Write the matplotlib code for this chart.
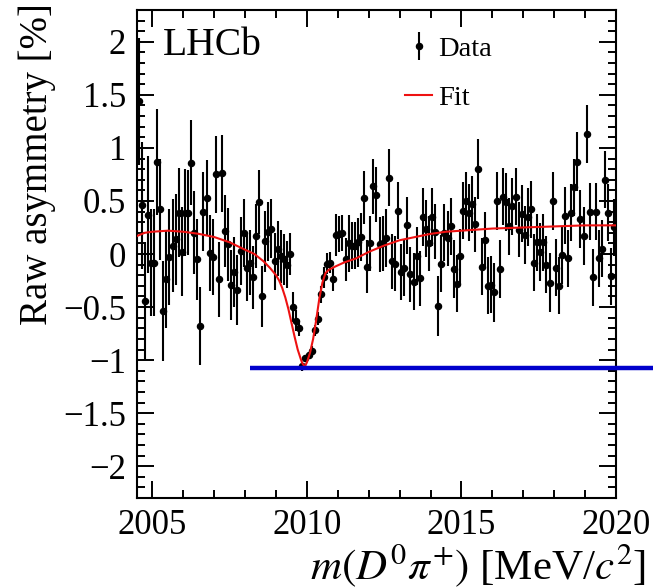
import matplotlib
matplotlib.use("Agg")
import matplotlib.pyplot as plt
from matplotlib.ticker import MultipleLocator, FixedLocator, FuncFormatter

plt.rcParams['font.family'] = ['Liberation Serif', 'DejaVu Serif']
plt.rcParams['mathtext.fontset'] = 'stix'

# ---- data ----
bin_start = 2004.55
bin_width = 0.1
asym = [1.44, 0.46, -0.44, 0.37, -0.08, -0.08, 0.87, 0.42, -0.54, -0.24,
        -0.03, 0.08, 0.14, 0.39, 0.02, 0.39, 0.39, 0.86, 0.20, -0.05,
        -0.68, 0.40, 0.53, 0.01, -0.03, 0.75, -0.24, 0.76, 0.22, 0.09,
        -0.29, -0.17, -0.34, 0.03, 0.20, -0.13, -0.08, -0.22, 0.17, 0.49,
        -0.40, 0.12, 0.21, 0.24, -0.07, 0.05, -0.02, -0.05, -0.10, 0.00,
        -0.50, -0.63, -0.70, -1.06, -0.98, -0.95, -0.91, -0.72, -0.61, -0.38,
        -0.22, -0.09, -0.08, -0.24, 0.18, 0.19, 0.20, -0.05, 0.10, 0.08,
        0.08, 0.11, 0.16, 0.53, -0.12, 0.10, 0.64, 0.56, 0.09, 0.10,
        0.15, 0.72, -0.07, -0.09, 0.41, -0.17, -0.13, 0.27, -0.19, -0.26,
        -0.02, -0.23, 0.35, 0.24, 0.10, 0.35, 0.21, -0.49, -0.09, 0.20,
        0.15, 0.26, -0.14, -0.28, -0.02, 0.41, 0.50, 0.39, 0.47, 0.28,
        0.80, -0.12, 0.13, -0.30, -0.29, -0.36, 0.50, -0.14, 0.54, 0.49,
        0.26, 0.45, 0.54, 0.23, 0.38, 0.18, 0.35, 0.42, -0.08, 0.11,
        0.02, 0.11, -0.10, -0.27, 0.50, -0.13, -0.30, -0.01, 0.36, -0.04,
        0.39, 0.63, 0.87, 0.33, 0.17, 1.13, 0.40, -0.22, 0.40, -0.04,
        0.05, 0.70, 0.39, -0.21, 0.25]
err = [0.60, 0.60, 0.55, 0.55, 0.50, 0.50, 0.50, 0.48, 0.47, 0.46,
       0.45, 0.44, 0.43, 0.42, 0.42, 0.41, 0.40, 0.40, 0.39, 0.38,
       0.37, 0.37, 0.36, 0.36, 0.36, 0.36, 0.35, 0.36, 0.34, 0.34,
       0.33, 0.33, 0.33, 0.32, 0.32, 0.31, 0.31, 0.30, 0.30, 0.30,
       0.29, 0.29, 0.28, 0.28, 0.27, 0.26, 0.25, 0.24, 0.22, 0.20,
       0.14, 0.10, 0.07, 0.04, 0.03, 0.03, 0.04, 0.05, 0.06, 0.08,
       0.10, 0.10, 0.10, 0.11, 0.20, 0.17, 0.17, 0.20, 0.27, 0.22,
       0.22, 0.23, 0.23, 0.25, 0.25, 0.26, 0.26, 0.26, 0.26, 0.26,
       0.27, 0.27, 0.26, 0.26, 0.27, 0.26, 0.27, 0.27, 0.26, 0.27,
       0.27, 0.26, 0.27, 0.27, 0.26, 0.27, 0.26, 0.28, 0.27, 0.27,
       0.26, 0.27, 0.27, 0.27, 0.26, 0.27, 0.27, 0.27, 0.27, 0.26,
       0.28, 0.27, 0.27, 0.27, 0.27, 0.28, 0.27, 0.27, 0.27, 0.27,
       0.27, 0.27, 0.27, 0.26, 0.27, 0.27, 0.27, 0.27, 0.27, 0.27,
       0.27, 0.27, 0.27, 0.28, 0.27, 0.27, 0.27, 0.27, 0.27, 0.27,
       0.27, 0.27, 0.28, 0.27, 0.27, 0.27, 0.27, 0.27, 0.27, 0.27,
       0.27, 0.27, 0.27, 0.27, 0.27]
mass = [bin_start + bin_width * i for i in range(len(asym))]

fit_x = [2004.5, 2004.75, 2005.0, 2005.5, 2006.0, 2006.5, 2007.0, 2007.5,
         2008.0, 2008.3, 2008.6, 2008.8, 2009.0, 2009.1, 2009.2, 2009.3,
         2009.4, 2009.5, 2009.6, 2009.7, 2009.8, 2009.85, 2009.9, 2009.95,
         2010.0, 2010.1, 2010.2, 2010.3, 2010.4, 2010.5, 2010.6, 2010.7,
         2010.9, 2011.2, 2011.6, 2012.0, 2012.5, 2013.0, 2013.5, 2014.0,
         2014.5, 2015.0, 2016.0, 2017.0, 2018.0, 2019.0, 2020.0]
fit_y = [0.17, 0.20, 0.21, 0.22, 0.21, 0.19, 0.16, 0.11,
         0.04, 0.00, -0.07, -0.13, -0.20, -0.25, -0.32, -0.41,
         -0.52, -0.65, -0.78, -0.90, -0.99, -1.03, -1.05, -1.05,
         -1.02, -0.93, -0.80, -0.62, -0.42, -0.27, -0.18, -0.15,
         -0.12, -0.08, -0.04, 0.02, 0.08, 0.13, 0.16, 0.19,
         0.21, 0.22, 0.24, 0.25, 0.26, 0.27, 0.27]

hline_y = -1.075
hline_x = [2008.15, 2021.6]

xlim = (2004.5, 2020.0)
ylim = (-2.3, 2.3)

# ---- figure ----
fig = plt.figure(figsize=(6.53, 5.88), dpi=100)
ax = fig.add_axes([0.2098, 0.153, 0.7335, 0.830])

eb = ax.errorbar(mass, asym, yerr=err, fmt='o', color='black', ms=4.4,
                 elinewidth=1.5, capsize=0, zorder=3)
fl, = ax.plot(fit_x, fit_y, color='#ee1111', lw=1.5, zorder=4)
ax.plot(hline_x, [hline_y, hline_y], color='#0000cc', lw=3.2,
        clip_on=False, zorder=5, solid_capstyle='butt')

ax.set_xlim(*xlim)
ax.set_ylim(*ylim)

ax.xaxis.set_major_locator(FixedLocator([2005, 2010, 2015, 2020]))
ax.xaxis.set_minor_locator(MultipleLocator(1))
ax.yaxis.set_major_locator(MultipleLocator(0.5))
ax.yaxis.set_minor_locator(MultipleLocator(0.1))

def yfmt(v, pos):
    s = ('%g' % round(v, 2))
    return s.replace('-', '\u2212')
ax.yaxis.set_major_formatter(FuncFormatter(yfmt))

ax.tick_params(which='both', direction='in', top=True, right=True,
               labelsize=25, width=1.4, colors='black')
ax.tick_params(which='major', length=12, pad=8)
ax.tick_params(which='minor', length=6)
for s in ax.spines.values():
    s.set_linewidth(1.5)

ax.set_ylabel('Raw asymmetry [%]', fontsize=28, loc='top')
ax.yaxis.set_label_coords(-0.17, 1.015)
ax.set_xlabel(r'$m(D^0\pi^{+})$ [MeV/$c^2$]', fontsize=31, loc='right',
              va='baseline')
ax.xaxis.set_label_coords(1.062, -0.166)

ax.text(0.054, 0.908, 'LHCb', transform=ax.transAxes, fontsize=28.5,
        ha='left', va='baseline')

ax.legend([eb, fl], ['Data', 'Fit'], loc='upper left',
          bbox_to_anchor=(0.56, 0.947), frameon=False, fontsize=20.5,
          handlelength=0.95, handletextpad=0.2, labelspacing=0.83,
          borderaxespad=0, borderpad=0)

fig.savefig('out.png', dpi=100)
